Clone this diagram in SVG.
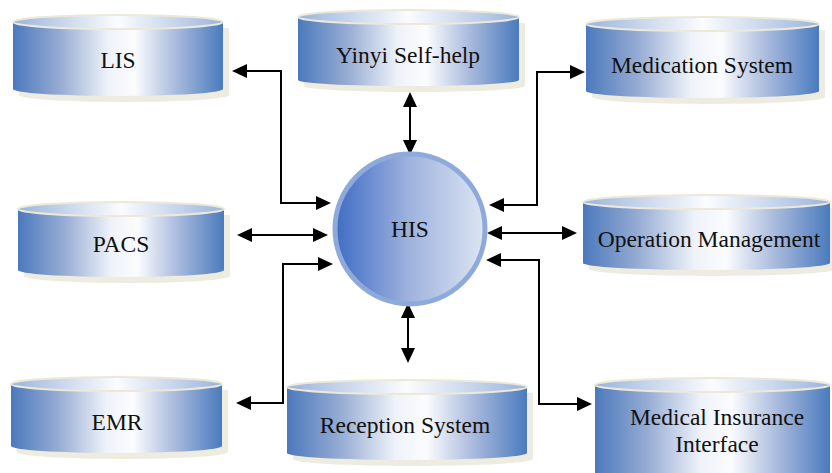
<svg xmlns="http://www.w3.org/2000/svg" width="832" height="473" viewBox="0 0 832 473">
  <defs>
    <linearGradient id="bodyGrad" x1="0" y1="0" x2="1" y2="0">
      <stop offset="0" stop-color="#4c79bd"/>
      <stop offset="0.22" stop-color="#95abd3"/>
      <stop offset="0.45" stop-color="#eef2f9"/>
      <stop offset="0.58" stop-color="#fbfcfe"/>
      <stop offset="0.78" stop-color="#a7b9dc"/>
      <stop offset="1" stop-color="#4a7bbe"/>
    </linearGradient>
    <linearGradient id="topGrad" x1="0" y1="0" x2="1" y2="0">
      <stop offset="0" stop-color="#9bb4dc"/>
      <stop offset="0.5" stop-color="#fbfcfe"/>
      <stop offset="1" stop-color="#9bb4dc"/>
    </linearGradient>
    <linearGradient id="hubGrad" x1="0" y1="0" x2="1" y2="0">
      <stop offset="0" stop-color="#3f6cc4"/>
      <stop offset="0.5" stop-color="#9fb3de"/>
      <stop offset="1" stop-color="#dce5f3"/>
    </linearGradient>
    <marker id="arrow" viewBox="0 0 15 14" refX="12" refY="7" markerWidth="15" markerHeight="14" markerUnits="userSpaceOnUse" orient="auto-start-reverse">
      <path d="M0,0 L15,7 L0,14 Z" fill="#000"/>
    </marker>
  </defs>
  <style>
    .shadow { fill: #eeebe0; }
    .body { fill: url(#bodyGrad); }
    .top { fill: url(#topGrad); stroke: #ece9d8; stroke-width: 2; }
    .label { font-family: "Liberation Serif", "Times New Roman", serif; font-size: 23.5px; fill: #111; text-anchor: middle; }
    .link { fill: none; stroke: #000; stroke-width: 2; marker-start: url(#arrow); marker-end: url(#arrow); }
  </style>

  <!-- connectors -->
  <g id="connectors">
    <path class="link" d="M235,71 H281 V203 H328"/>
    <path class="link" d="M410,95 V152"/>
    <path class="link" d="M492,205 H537 V72 H582"/>
    <path class="link" d="M240,235 H325"/>
    <path class="link" d="M490,233 H574"/>
    <path class="link" d="M330,264 H283 V403 H239"/>
    <path class="link" d="M408,306 V360"/>
    <path class="link" d="M489,260 H539 V404 H589"/>
  </g>

  <!-- LIS -->
  <g id="lis">
    <path class="shadow" d="M19,28 V95 A105,7 0 0 0 229,95 V28 Z"/>
    <path class="body" d="M13,22 V89 A105,7 0 0 0 223,89 V22 Z"/>
    <ellipse class="top" cx="118" cy="22" rx="105" ry="7"/>
    <text class="label" x="118" y="68">LIS</text>
  </g>

  <!-- Yinyi Self-help -->
  <g id="yinyi">
    <path class="shadow" d="M304,23 V86 A110.5,6 0 0 0 525,86 V23 Z"/>
    <path class="body" d="M298,17 V80 A110.5,6 0 0 0 519,80 V17 Z"/>
    <ellipse class="top" cx="408.5" cy="17" rx="110.5" ry="7"/>
    <text class="label" x="408" y="63">Yinyi Self-help</text>
  </g>

  <!-- Medication System -->
  <g id="medication">
    <path class="shadow" d="M592,30 V97 A116.5,7 0 0 0 825,97 V30 Z"/>
    <path class="body" d="M586,24 V91 A116.5,7 0 0 0 819,91 V24 Z"/>
    <ellipse class="top" cx="702.5" cy="24" rx="116.5" ry="7"/>
    <text class="label" x="702" y="73">Medication System</text>
  </g>

  <!-- PACS -->
  <g id="pacs">
    <path class="shadow" d="M24,215 V276 A103,7 0 0 0 230,276 V215 Z"/>
    <path class="body" d="M18,209 V270 A103,7 0 0 0 224,270 V209 Z"/>
    <ellipse class="top" cx="121" cy="209" rx="103" ry="7"/>
    <text class="label" x="121" y="252">PACS</text>
  </g>

  <!-- HIS hub -->
  <g id="his">
    <circle cx="410" cy="229" r="75" fill="url(#hubGrad)" stroke="#8eaadb" stroke-width="5"/>
    <text class="label" x="410" y="237">HIS</text>
  </g>

  <!-- Operation Management -->
  <g id="operation">
    <path class="shadow" d="M589,208 V269 A123.5,7 0 0 0 836,269 V208 Z"/>
    <path class="body" d="M583,202 V263 A123.5,7 0 0 0 830,263 V202 Z"/>
    <ellipse class="top" cx="706.5" cy="202" rx="123.5" ry="7"/>
    <text class="label" x="709" y="247">Operation Management</text>
  </g>

  <!-- EMR -->
  <g id="emr">
    <path class="shadow" d="M17,390 V452 A105.5,7 0 0 0 228,452 V390 Z"/>
    <path class="body" d="M11,384 V446 A105.5,7 0 0 0 222,446 V384 Z"/>
    <ellipse class="top" cx="116.5" cy="384" rx="105.5" ry="7"/>
    <text class="label" x="117" y="430">EMR</text>
  </g>

  <!-- Reception System -->
  <g id="reception">
    <path class="shadow" d="M293,393 V459 A120,7 0 0 0 533,459 V393 Z"/>
    <path class="body" d="M287,387 V453 A120,7 0 0 0 527,453 V387 Z"/>
    <ellipse class="top" cx="407" cy="387" rx="120" ry="7"/>
    <text class="label" x="405" y="433">Reception System</text>
  </g>

  <!-- Medical Insurance Interface -->
  <g id="insurance">
    <path class="body" d="M595,385 V478 A117.5,7 0 0 0 830,478 V385 Z"/>
    <ellipse class="top" cx="712.5" cy="385" rx="117.5" ry="7"/>
    <text class="label" x="717" y="425">Medical Insurance</text>
    <text class="label" x="717" y="452">Interface</text>
  </g>
</svg>
